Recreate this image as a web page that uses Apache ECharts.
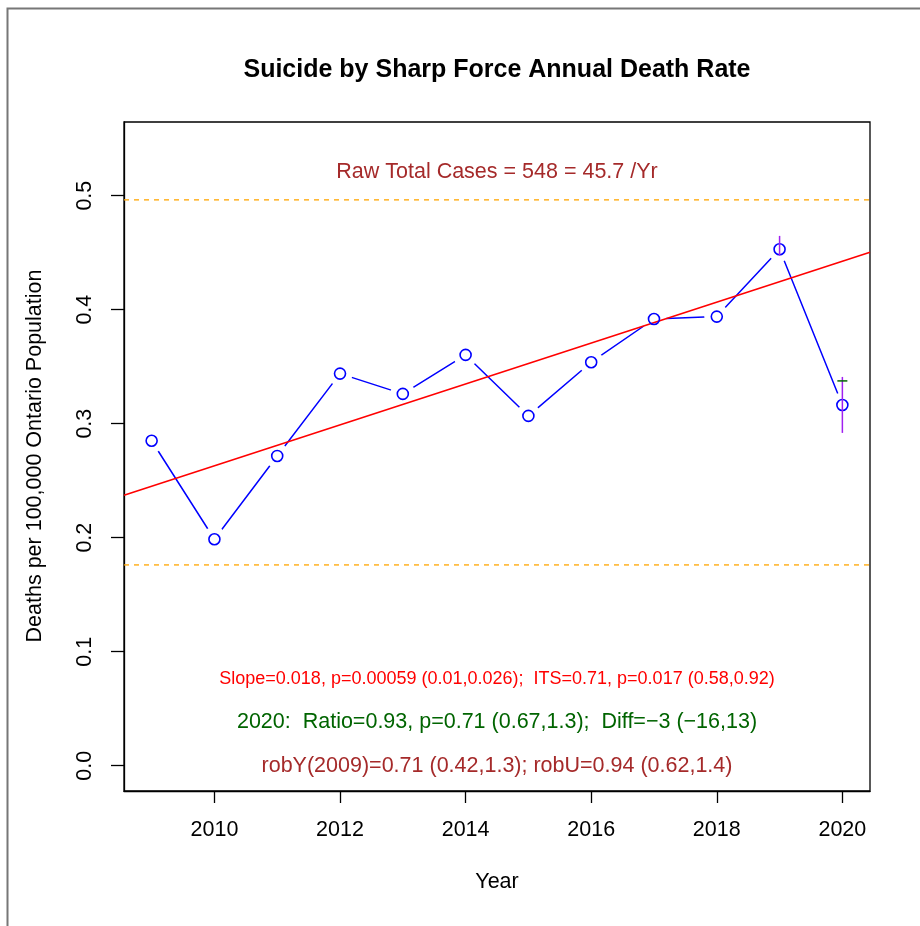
<!DOCTYPE html>
<html><head><meta charset="utf-8">
<script src="https://cdn.jsdelivr.net/npm/echarts@6/dist/echarts.min.js"></script>
<style>html,body{margin:0;padding:0;background:#fff}#c{width:920px;height:926px}</style>
</head><body><div id="c"></div>
<script>
// ---- data ----
const years = [2009, 2010, 2011, 2012, 2013, 2014, 2015, 2016, 2017, 2018, 2019, 2020];
const rates = [0.285, 0.1986, 0.2717, 0.3439, 0.3261, 0.3603, 0.3068, 0.3539, 0.3918, 0.3939, 0.4530, 0.3164];
const xTicks = [2010, 2012, 2014, 2016, 2018, 2020];
const yTicks = [0, 0.1, 0.2, 0.3, 0.4, 0.5];
const yTickLabels = ['0.0', '0.1', '0.2', '0.3', '0.4', '0.5'];
const trendAt2009 = 0.2452;
const trendSlope = 0.01794;
const refLines = [0.4963, 0.1761];
const ciYears = [2019, 2020];
const ciLow = [0.4474, 0.2919];
const ciHigh = [0.4647, 0.3410];
const itsYears = [2020];
const itsValues = [0.3375];
const xMin = 2008.56, xMax = 2020.44, yMin = -0.0222, yMax = 0.5646;

const FONT = '"Liberation Sans", Arial, Helvetica, sans-serif';
const FS = 21.5;
const chart = echarts.init(document.getElementById('c'), null, {renderer: 'canvas'});

const pts = years.map((y, i) => [y, rates[i]]);
const trend = [[xMin, trendAt2009 + (xMin - 2009) * trendSlope], [xMax, trendAt2009 + (xMax - 2009) * trendSlope]];
const ciData = ciYears.map((y, i) => [y, ciLow[i], ciHigh[i]]);
const itsData = itsYears.map((y, i) => [y, itsValues[i]]);

const refSeries = refLines.map(v => ({
  type: 'line', data: [[xMin, v], [xMax, v]], showSymbol: false, symbol: 'none',
  lineStyle: {color: '#FFA500', type: [5, 5], width: 1.3}, z: 1, silent: true
}));

const option = {
  animation: false,
  backgroundColor: '#fff',
  grid: {left: 124, right: 50, top: 122, bottom: 135, show: true, borderColor: '#000', borderWidth: 1.3, containLabel: false, outerBoundsMode: 'none'},
  xAxis: {
    type: 'value', min: xMin, max: xMax,
    axisLine: {show: true, onZero: false, lineStyle: {color: '#000', width: 1.3}},
    axisTick: {show: true, inside: false, length: 12, customValues: xTicks, lineStyle: {color: '#000', width: 1.3}},
    axisLabel: {show: true, margin: 28, customValues: xTicks, color: '#000', fontSize: FS, fontFamily: FONT, formatter: v => String(Math.round(v))},
    splitLine: {show: false}
  },
  yAxis: {
    type: 'value', min: yMin, max: yMax,
    axisLine: {show: true, onZero: false, lineStyle: {color: '#000', width: 1.3}},
    axisTick: {show: true, inside: false, length: 13, customValues: yTicks, lineStyle: {color: '#000', width: 1.3}},
    axisLabel: {show: true, margin: 28, rotate: 90, customValues: yTicks, color: '#000', fontSize: FS, fontFamily: FONT,
      formatter: v => yTickLabels[yTicks.findIndex(t => Math.abs(t - v) < 1e-6)] ?? v.toFixed(1)},
    splitLine: {show: false}
  },
  series: [
    ...refSeries,
    {type: 'line', data: pts, showSymbol: false, symbol: 'none', lineStyle: {color: '#0000FF', width: 1.5}, z: 2},
    {type: 'scatter', data: pts, symbol: 'circle', symbolSize: 25, itemStyle: {color: '#fff', borderWidth: 0, opacity: 1}, z: 3, silent: true},
    {type: 'line', data: trend, showSymbol: false, symbol: 'none', lineStyle: {color: '#FF0000', width: 1.6}, z: 4},
    {type: 'custom', data: pts, z: 5, silent: true,
      renderItem: (params, api) => {
        const c = api.coord([api.value(0), api.value(1)]);
        return {type: 'circle', shape: {cx: c[0], cy: c[1], r: 5.5}, style: {fill: 'transparent', stroke: '#0000FF', lineWidth: 1.6}};
      }},
    {type: 'custom', data: ciData, z: 6,
      renderItem: (params, api) => {
        const a = api.coord([api.value(0), api.value(1)]);
        const b = api.coord([api.value(0), api.value(2)]);
        return {type: 'line', shape: {x1: a[0], y1: a[1], x2: b[0], y2: b[1]}, style: {stroke: '#A020F0', lineWidth: 1.5}};
      }},
    {type: 'custom', data: itsData, z: 7,
      renderItem: (params, api) => {
        const a = api.coord([api.value(0), api.value(1)]);
        return {type: 'line', shape: {x1: a[0] - 5, y1: a[1], x2: a[0] + 5, y2: a[1]}, style: {stroke: '#006400', lineWidth: 1.5}};
      }}
  ],
  graphic: [
    {type: 'rect', left: 5, top: 6, shape: {width: 940, height: 940}, style: {fill: 'none', stroke: '#777', lineWidth: 2}, silent: true, z: 100},
    {type: 'text', x: 497, y: 70, style: {text: 'Suicide by Sharp Force Annual Death Rate', fill: '#000', font: 'bold 25px ' + FONT, textAlign: 'center', textVerticalAlign: 'middle'}},
    {type: 'text', x: 497, y: 172, style: {text: 'Raw Total Cases = 548 = 45.7 /Yr', fill: '#A52A2A', font: FS + 'px ' + FONT, textAlign: 'center', textVerticalAlign: 'middle'}},
    {type: 'text', x: 497, y: 679, style: {text: 'Slope=0.018, p=0.00059 (0.01,0.026);  ITS=0.71, p=0.017 (0.58,0.92)', fill: '#FF0000', font: '18px ' + FONT, textAlign: 'center', textVerticalAlign: 'middle'}},
    {type: 'text', x: 497, y: 722, style: {text: '2020:  Ratio=0.93, p=0.71 (0.67,1.3);  Diff=\u22123 (\u221216,13)', fill: '#006400', font: FS + 'px ' + FONT, textAlign: 'center', textVerticalAlign: 'middle'}},
    {type: 'text', x: 497, y: 766, style: {text: 'robY(2009)=0.71 (0.42,1.3); robU=0.94 (0.62,1.4)', fill: '#A52A2A', font: FS + 'px ' + FONT, textAlign: 'center', textVerticalAlign: 'middle'}},
    {type: 'text', x: 497, y: 882, style: {text: 'Year', fill: '#000', font: FS + 'px ' + FONT, textAlign: 'center', textVerticalAlign: 'middle'}},
    {type: 'text', x: 35, y: 456, rotation: Math.PI / 2, style: {text: 'Deaths per 100,000 Ontario Population', fill: '#000', font: FS + 'px ' + FONT, textAlign: 'center', textVerticalAlign: 'middle'}}
  ]
};
chart.setOption(option);
</script>
</body></html>
